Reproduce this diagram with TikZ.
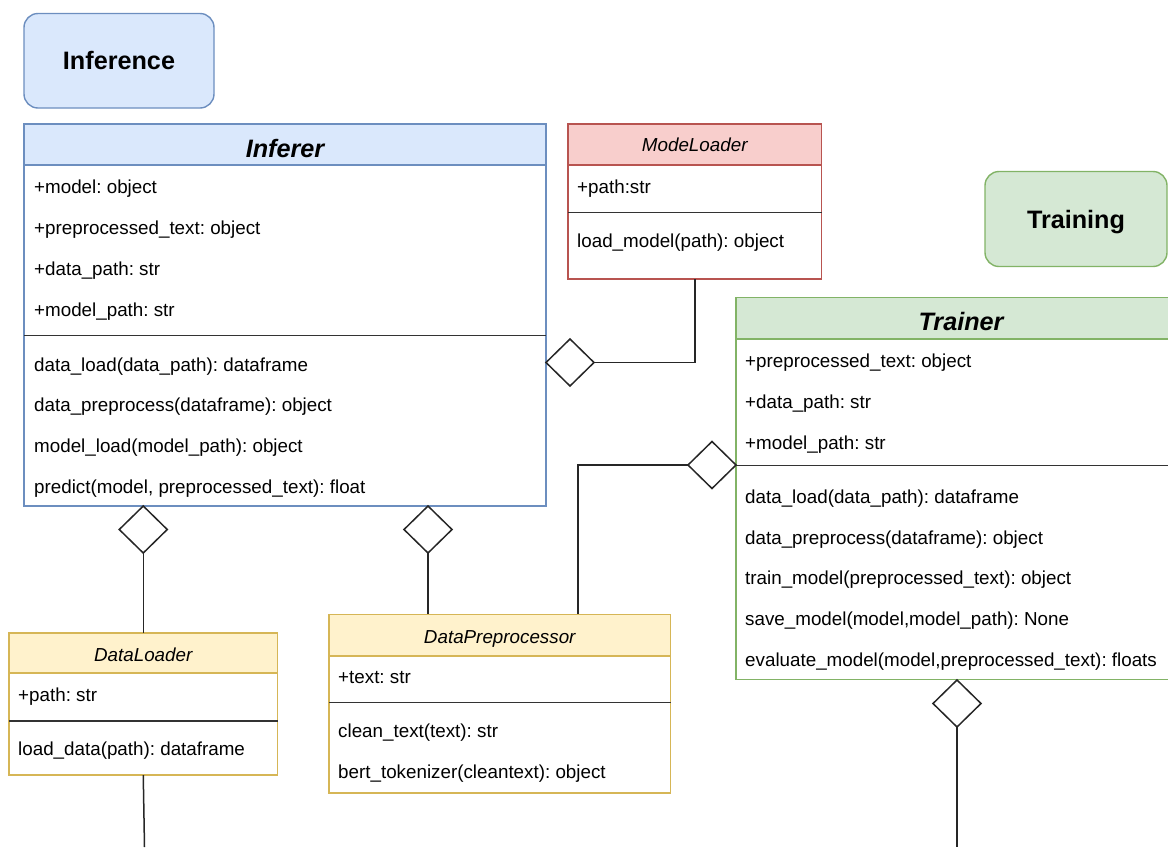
\documentclass[tikz,border=0pt]{standalone}
\usepackage{fontspec}
\setmainfont{Liberation Sans}
\usetikzlibrary{shapes.geometric}
\definecolor{bfill}{HTML}{DAE8FC}\definecolor{bline}{HTML}{6C8EBF}
\definecolor{rfill}{HTML}{F8CECC}\definecolor{rline}{HTML}{B85450}
\definecolor{gfill}{HTML}{D5E8D4}\definecolor{gline}{HTML}{82B366}
\definecolor{yfill}{HTML}{FFF2CC}\definecolor{yline}{HTML}{D6B656}
\definecolor{lcol}{HTML}{262626}
\newcommand\bodyfnt{\fontsize{18.8}{22}\selectfont\frenchspacing}
\newcommand\bigfnt{\fontsize{25.2}{30}\selectfont}
\frenchspacing
\begin{document}
\begin{tikzpicture}[x=1pt,y=-1pt,
  classbox/.style={draw, line width=1.4pt, fill=white, inner sep=0pt, outer sep=0pt, anchor=north west},
  hdr/.style={draw, line width=1.4pt, inner sep=0pt, outer sep=0pt, anchor=north west},
  pill/.style={draw, line width=1.4pt, rounded corners=14pt, inner sep=0pt, outer sep=0pt, anchor=north west, font=\bigfnt\bfseries, text depth=0pt},
  mem/.style={anchor=base west, inner sep=0pt, font=\bodyfnt},
  btitle/.style={anchor=base, inner sep=0pt, font=\bigfnt\bfseries\itshape},
  stitle/.style={anchor=base, inner sep=0pt, font=\bodyfnt\itshape},
  sepline/.style={draw=black!80, line width=1.6pt},
  diam/.style={diamond, draw=lcol, line width=1.5pt, fill=white, inner sep=0pt, outer sep=0pt, minimum width=48pt, minimum height=47pt},
  conn/.style={draw=lcol, line width=1.5pt}
]
\useasboundingbox (0,0) rectangle (1168,847);

% group labels
\node[pill, draw=bline, fill=bfill, minimum width=190pt, minimum height=94.5pt] (inference) at (24,13.5) {Inference};
\node[pill, draw=gline, fill=gfill, minimum width=182pt, minimum height=95pt] (training) at (985,171.5) {Training};

% Inferer
\node[classbox, draw=bline, minimum width=522pt, minimum height=382pt] (inferer) at (24,124) {};
\node[hdr, draw=bline, fill=bfill, minimum width=522pt, minimum height=41pt] (infererh) at (24,124) {};
\node[btitle] (infererT) at (285,157) {Inferer};
\node[mem] (i1) at (34,193) {+model: object};
\node[mem] (i2) at (34,234) {+preprocessed\_text: object};
\node[mem] (i3) at (34,275) {+data\_path: str};
\node[mem] (i4) at (34,316) {+model\_path: str};
\draw[sepline] (inferer.west |- 0,335.5) -- (inferer.east |- 0,335.5);
\node[mem] (i5) at (34,371) {data\_load(data\_path): dataframe};
\node[mem] (i6) at (34,411.5) {data\_preprocess(dataframe): object};
\node[mem] (i7) at (34,452) {model\_load(model\_path): object};
\node[mem] (i8) at (34,493) {predict(model, preprocessed\_text): float};

% ModeLoader
\node[classbox, draw=rline, minimum width=253.5pt, minimum height=155pt] (modeloader) at (568,124) {};
\node[hdr, draw=rline, fill=rfill, minimum width=253.5pt, minimum height=41pt] (modeloaderh) at (568,124) {};
\node[stitle] (modeloaderT) at (694.75,151) {ModeLoader};
\node[mem] (m1) at (577,193) {+path:str};
\draw[sepline] (modeloader.west |- 0,212.5) -- (modeloader.east |- 0,212.5);
\node[mem] (m2) at (577,247) {load\_model(path): object};

% Trainer
\node[classbox, draw=gline, minimum width=450pt, minimum height=382pt] (trainer) at (736,297.6) {};
\node[hdr, draw=gline, fill=gfill, minimum width=450pt, minimum height=41.4pt] (trainerh) at (736,297.6) {};
\node[btitle] (trainerT) at (961,330.7) {Trainer};
\node[mem] (t1) at (745,367.5) {+preprocessed\_text: object};
\node[mem] (t2) at (745,408) {+data\_path: str};
\node[mem] (t3) at (745,449) {+model\_path: str};
\draw[sepline] (trainer.west |- 0,465.5) -- (trainer.east |- 0,465.5);
\node[mem] (t4) at (745,503) {data\_load(data\_path): dataframe};
\node[mem] (t5) at (745,544) {data\_preprocess(dataframe): object};
\node[mem] (t6) at (745,584.5) {train\_model(preprocessed\_text): object};
\node[mem] (t7) at (745,625.5) {save\_model(model,model\_path): None};
\node[mem] (t8) at (745,666) {evaluate\_model(model,preprocessed\_text): floats};

% DataLoader
\node[classbox, draw=yline, minimum width=268.5pt, minimum height=142pt] (dataloader) at (9,633) {};
\node[hdr, draw=yline, fill=yfill, minimum width=268.5pt, minimum height=40pt] (dataloaderh) at (9,633) {};
\node[stitle] (dataloaderT) at (143.25,661) {DataLoader};
\node[mem] (l1) at (18,701.5) {+path: str};
\draw[sepline] (dataloader.west |- 0,721) -- (dataloader.east |- 0,721);
\node[mem] (l2) at (18,755) {load\_data(path): dataframe};

% DataPreprocessor
\node[classbox, draw=yline, minimum width=341.5pt, minimum height=178.5pt] (dp) at (329,614.3) {};
\node[hdr, draw=yline, fill=yfill, minimum width=341.5pt, minimum height=41.5pt] (dph) at (329,614.3) {};
\node[stitle] (dpT) at (499.75,643) {DataPreprocessor};
\node[mem] (p1) at (338,683.5) {+text: str};
\draw[sepline] (dp.west |- 0,702.5) -- (dp.east |- 0,702.5);
\node[mem] (p2) at (338,737.5) {clean\_text(text): str};
\node[mem] (p3) at (338,778.5) {bert\_tokenizer(cleantext): object};

% connectors
\node[diam, anchor=west] (d1) at (546,362.5) {};
\draw[conn] (d1.east) -| (modeloader.south);

\node[diam, anchor=north] (d2) at (143.25,506) {};
\draw[conn] (d2.south) -- (dataloader.north);

\node[diam, anchor=north] (d3) at (428,506) {};
\draw[conn] (d3.south) -- (d3.south |- dp.north);

\node[diam, anchor=east] (d4) at (736,465) {};
\draw[conn] (d4.west) -| ([xshift=249pt]dp.north west);

\node[diam, anchor=north] (d5) at (957,680) {};
\coordinate (e5) at (957,847);
\draw[conn] (d5.south) -- (e5);

\coordinate (e6) at (144.5,847);
\draw[conn] (dataloader.south) -- (e6);
\end{tikzpicture}
\end{document}
